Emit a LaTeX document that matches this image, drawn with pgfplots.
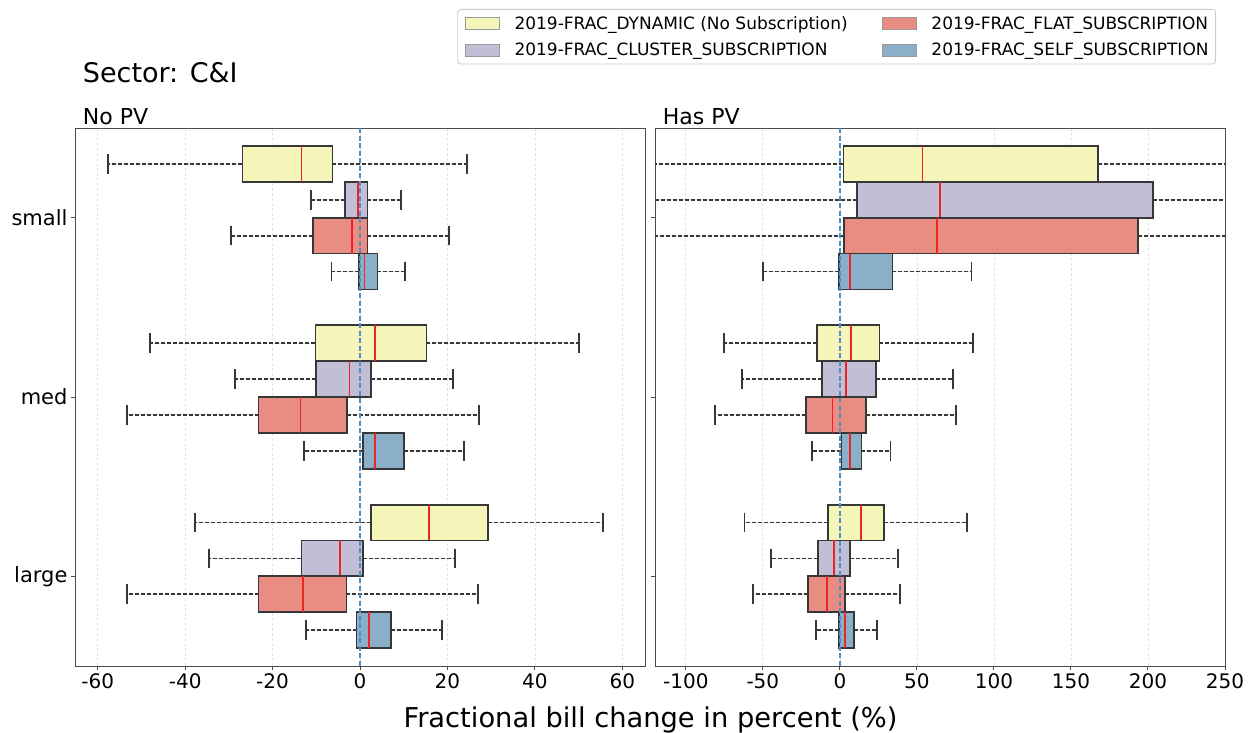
\documentclass[border=0pt]{standalone}
\usepackage{fontspec}
\setmainfont{DejaVu Sans}
\usepackage{pgfplots}
\usepackage{pgfplotstable}
\pgfplotsset{compat=1.18}
\usepgfplotslibrary{statistics}

\definecolor{cyel}{RGB}{245,245,186}
\definecolor{cpur}{RGB}{193,190,214}
\definecolor{cred}{RGB}{233,140,129}
\definecolor{cblu}{RGB}{138,175,200}
\definecolor{cedge}{RGB}{55,55,55}
\definecolor{cmed}{RGB}{238,35,35}
\definecolor{czero}{RGB}{75,143,200}

% No PV: rows = small (dyn, cluster, flat, self), med (...), large (...)
\pgfplotstableread{
lw lq med uq uw
-57.6 -26.9 -13.4 -6.3 24.4
-11.2 -3.4 -0.5 1.7 9.4
-29.5 -10.7 -1.8 1.7 20.4
-6.5 -0.3 1.05 4.0 10.3
-48.0 -10.2 3.5 15.2 50.1
-28.6 -10.0 -2.4 2.5 21.2
-53.3 -23.2 -13.6 -3.0 27.2
-12.9 0.7 3.4 10.0 23.7
-37.7 2.5 15.8 29.2 55.5
-34.5 -13.4 -4.5 0.7 21.7
-53.3 -23.2 -13.0 -3.1 27.0
-12.4 -0.8 2.1 7.0 18.8
}\nopv

% Has PV
\pgfplotstableread{
lw lq med uq uw
-200 2.3 53.7 167.5 350
-200 11.2 64.9 203.1 350
-200 2.8 63.1 193.7 350
-50.1 -0.8 6.6 34.1 85.5
-75.3 -15.0 7.1 25.7 86.5
-63.6 -11.7 3.8 23.4 73.6
-81.2 -22.1 -4.8 16.8 75.3
-18.3 1.0 6.6 14.0 32.8
-61.9 -7.9 13.7 28.5 82.7
-44.8 -14.0 -3.6 6.6 37.9
-56.5 -20.6 -8.4 3.3 38.9
-15.5 -0.8 3.3 9.4 23.9
}\haspv

\newcommand{\bx}[4]{%
  \pgfplotstablegetelem{#2}{lw}\of{#1}\let\vlw\pgfplotsretval
  \pgfplotstablegetelem{#2}{lq}\of{#1}\let\vlq\pgfplotsretval
  \pgfplotstablegetelem{#2}{med}\of{#1}\let\vmed\pgfplotsretval
  \pgfplotstablegetelem{#2}{uq}\of{#1}\let\vuq\pgfplotsretval
  \pgfplotstablegetelem{#2}{uw}\of{#1}\let\vuw\pgfplotsretval
  \edef\doplot{\noexpand\addplot[forget plot, fill=#4, draw=cedge, line width=1.8pt,
    boxplot prepared={draw position=#3, lower whisker=\vlw, lower quartile=\vlq,
      median=\vmed, upper quartile=\vuq, upper whisker=\vuw}] coordinates {};}%
  \doplot}

\pgfplotsset{
  bpstyle/.style={
    scale only axis, height=538pt, width=570pt,
    y dir=reverse, ymin=-0.5, ymax=2.5, ytick={0,1,2},
    tick align=outside, major tick length=4pt,
    xtick pos=bottom, ytick pos=left,
    axis line style={black!70, line width=1pt},
    every tick/.style={black!70, line width=1pt},
    xmajorgrids,
    major grid style={black!11, line width=0.7pt, dash pattern=on 3pt off 2pt},
    xticklabel style={font=\fontsize{20}{24}\selectfont},
    yticklabel style={font=\fontsize{21}{25}\selectfont},
    /pgf/number format/assume math mode=true,
    boxplot/draw direction=x,
    boxplot/box extend=0.2,
    boxplot/whisker extend=0.11,
    boxplot/draw/median/.code={%
      \draw[cmed, line width=1.7pt]
        (boxplot box cs:\pgfplotsboxplotvalue{median},0) --
        (boxplot box cs:\pgfplotsboxplotvalue{median},1);},
    boxplot/draw/lower whisker/.code={%
      \draw[cedge, line width=1.8pt, dash pattern=on 4pt off 2pt]
        (boxplot box cs:\pgfplotsboxplotvalue{lower quartile},0.5) --
        (boxplot box cs:\pgfplotsboxplotvalue{lower whisker},0.5);
      \draw[cedge, line width=1.8pt]
        (boxplot whisker cs:\pgfplotsboxplotvalue{lower whisker},0) --
        (boxplot whisker cs:\pgfplotsboxplotvalue{lower whisker},1);},
    boxplot/draw/upper whisker/.code={%
      \draw[cedge, line width=1.8pt, dash pattern=on 4pt off 2pt]
        (boxplot box cs:\pgfplotsboxplotvalue{upper quartile},0.5) --
        (boxplot box cs:\pgfplotsboxplotvalue{upper whisker},0.5);
      \draw[cedge, line width=1.8pt]
        (boxplot whisker cs:\pgfplotsboxplotvalue{upper whisker},0) --
        (boxplot whisker cs:\pgfplotsboxplotvalue{upper whisker},1);},
  }
}

\begin{document}
\begin{tikzpicture}
\path[use as bounding box] (0pt,0pt) rectangle (1253pt,732pt);

\begin{axis}[bpstyle, at={(75pt,66pt)}, anchor=south west,
  xmin=-65.2, xmax=65.2, xtick={-60,-40,-20,0,20,40,60},
  yticklabels={small,med,large}]
\bx{\nopv}{0}{-0.3}{cyel}
\bx{\nopv}{1}{-0.1}{cpur}
\bx{\nopv}{2}{0.1}{cred}
\bx{\nopv}{3}{0.3}{cblu}
\bx{\nopv}{4}{0.7}{cyel}
\bx{\nopv}{5}{0.9}{cpur}
\bx{\nopv}{6}{1.1}{cred}
\bx{\nopv}{7}{1.3}{cblu}
\bx{\nopv}{8}{1.7}{cyel}
\bx{\nopv}{9}{1.9}{cpur}
\bx{\nopv}{10}{2.1}{cred}
\bx{\nopv}{11}{2.3}{cblu}
\addplot[forget plot, czero, line width=1.6pt, dash pattern=on 5pt off 2.5pt] coordinates {(0,-0.5) (0,2.5)};
\end{axis}

\begin{axis}[bpstyle, at={(655pt,66pt)}, anchor=south west,
  xmin=-120, xmax=250, xtick={-100,-50,0,50,100,150,200,250},
  yticklabels={},
  legend columns=2, legend cell align=left,
  legend style={at={(0.9842,1.2212)}, anchor=north east,
    draw=black!20, rounded corners=3pt, line width=0.8pt,
    font=\fontsize{17}{20}\selectfont,
    inner xsep=7pt, inner ysep=5pt, row sep=8pt,
    nodes={inner xsep=0pt},
    /tikz/every odd column/.append style={column sep=15pt},
    /tikz/every even column/.append style={column sep=34pt}}]
\bx{\haspv}{0}{-0.3}{cyel}
\bx{\haspv}{1}{-0.1}{cpur}
\bx{\haspv}{2}{0.1}{cred}
\bx{\haspv}{3}{0.3}{cblu}
\bx{\haspv}{4}{0.7}{cyel}
\bx{\haspv}{5}{0.9}{cpur}
\bx{\haspv}{6}{1.1}{cred}
\bx{\haspv}{7}{1.3}{cblu}
\bx{\haspv}{8}{1.7}{cyel}
\bx{\haspv}{9}{1.9}{cpur}
\bx{\haspv}{10}{2.1}{cred}
\bx{\haspv}{11}{2.3}{cblu}
\addplot[forget plot, czero, line width=1.6pt, dash pattern=on 5pt off 2.5pt] coordinates {(0,-0.5) (0,2.5)};
\addlegendimage{legend image code/.code={\draw[sharp corners,fill=cyel,draw=black!40,line width=0.7pt] (0pt,-6pt) rectangle (34pt,6pt);}}
\addlegendentry{2019-FRAC\_DYNAMIC (No Subscription)}
\addlegendimage{legend image code/.code={\draw[sharp corners,fill=cred,draw=black!40,line width=0.7pt] (0pt,-6pt) rectangle (34pt,6pt);}}
\addlegendentry{2019-FRAC\_FLAT\_SUBSCRIPTION}
\addlegendimage{legend image code/.code={\draw[sharp corners,fill=cpur,draw=black!40,line width=0.7pt] (0pt,-6pt) rectangle (34pt,6pt);}}
\addlegendentry{2019-FRAC\_CLUSTER\_SUBSCRIPTION}
\addlegendimage{legend image code/.code={\draw[sharp corners,fill=cblu,draw=black!40,line width=0.7pt] (0pt,-6pt) rectangle (34pt,6pt);}}
\addlegendentry{2019-FRAC\_SELF\_SUBSCRIPTION}
\end{axis}

\node[anchor=base west, inner sep=0pt, font=\fontsize{27}{32}\selectfont] at (82.7pt,649.3pt) {Sector: C\&I};
\node[anchor=base west, inner sep=0pt, font=\fontsize{22}{26}\selectfont] at (82.7pt,607pt) {No PV};
\node[anchor=base west, inner sep=0pt, font=\fontsize{22}{26}\selectfont] at (662.7pt,607pt) {Has PV};
\node[anchor=base, inner sep=0pt, font=\fontsize{27.3}{32}\selectfont] at (650.5pt,5pt) {Fractional bill change in percent (\%)};
\end{tikzpicture}
\end{document}
